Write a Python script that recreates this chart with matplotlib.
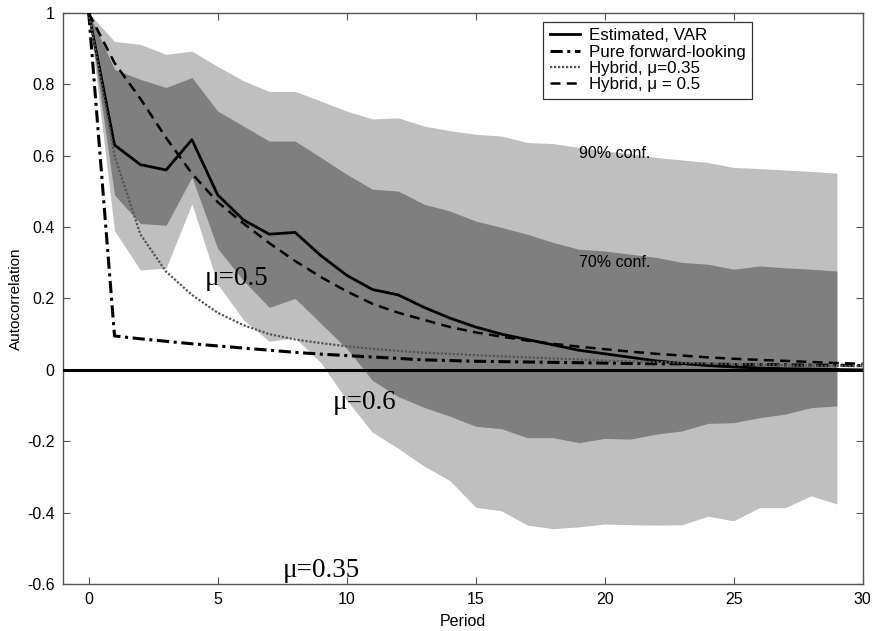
import numpy as np
import matplotlib
matplotlib.use("Agg")
import matplotlib.pyplot as plt

plt.rcParams['font.family'] = ['Liberation Sans', 'DejaVu Sans']

periods = list(range(0, 31))
band_periods = list(range(0, 30))

estimated_var = [1.0, 0.63, 0.575, 0.56, 0.645, 0.49, 0.42, 0.38, 0.385, 0.32,
                 0.265, 0.225, 0.21, 0.175, 0.145, 0.12, 0.10, 0.085, 0.07, 0.055,
                 0.045, 0.035, 0.025, 0.018, 0.012, 0.008, 0.005, 0.003, 0.002, 0.001, 0.0]
pure_forward = [1.0, 0.095, 0.087, 0.08, 0.073, 0.067, 0.061, 0.055, 0.049, 0.044,
                0.04, 0.036, 0.032, 0.028, 0.026, 0.024, 0.023, 0.022, 0.021, 0.020,
                0.019, 0.018, 0.017, 0.017, 0.016, 0.015, 0.015, 0.014, 0.013, 0.013, 0.012]
hybrid_035 = [1.0, 0.60, 0.38, 0.275, 0.21, 0.16, 0.125, 0.10, 0.085, 0.075,
              0.066, 0.059, 0.053, 0.048, 0.045, 0.041, 0.038, 0.035, 0.032, 0.029,
              0.026, 0.024, 0.022, 0.020, 0.018, 0.016, 0.015, 0.013, 0.012, 0.011, 0.010]
hybrid_05 = [1.0, 0.86, 0.76, 0.65, 0.55, 0.47, 0.41, 0.355, 0.305, 0.26,
             0.22, 0.185, 0.16, 0.14, 0.12, 0.105, 0.093, 0.082, 0.073, 0.065,
             0.058, 0.051, 0.045, 0.040, 0.035, 0.031, 0.028, 0.025, 0.022, 0.019, 0.017]

upper90 = [1.0, 0.92, 0.912, 0.884, 0.893, 0.85, 0.81, 0.78, 0.78, 0.753,
           0.725, 0.703, 0.706, 0.683, 0.67, 0.66, 0.655, 0.637, 0.634, 0.623,
           0.613, 0.606, 0.595, 0.588, 0.581, 0.567, 0.564, 0.56, 0.556, 0.551]
upper70 = [1.0, 0.842, 0.814, 0.791, 0.819, 0.725, 0.683, 0.641, 0.641, 0.595,
           0.548, 0.506, 0.501, 0.464, 0.445, 0.417, 0.399, 0.38, 0.357, 0.338,
           0.333, 0.324, 0.315, 0.301, 0.296, 0.282, 0.291, 0.286, 0.282, 0.277]
lower70 = [1.0, 0.49, 0.41, 0.405, 0.54, 0.34, 0.25, 0.175, 0.20, 0.13,
           0.06, -0.03, -0.075, -0.105, -0.13, -0.158, -0.165, -0.19, -0.19, -0.204,
           -0.192, -0.194, -0.18, -0.171, -0.15, -0.148, -0.134, -0.124, -0.106, -0.101]
lower90 = [1.0, 0.39, 0.28, 0.285, 0.465, 0.24, 0.14, 0.08, 0.09, 0.02,
           -0.085, -0.175, -0.22, -0.27, -0.31, -0.385, -0.395, -0.435, -0.445, -0.44,
           -0.432, -0.434, -0.435, -0.434, -0.41, -0.423, -0.386, -0.386, -0.353, -0.376]

xticks = [0, 5, 10, 15, 20, 25, 30]
yticks = [-0.6, -0.4, -0.2, 0, 0.2, 0.4, 0.6, 0.8, 1]
ytick_labels = ['-0.6', '-0.4', '-0.2', '0', '0.2', '0.4', '0.6', '0.8', '1']

fig = plt.figure(figsize=(8.74, 6.31), dpi=100)
ax = fig.add_axes([0.072, 0.0745, 0.915, 0.905])

light = '#bfbfbf'
dark = '#7f7f7f'
ax.fill_between(band_periods, lower90, upper90, color=light, lw=0, zorder=1)
ax.fill_between(band_periods, lower70, upper70, color=dark, lw=0, zorder=2)

ax.axhline(0, color='black', lw=2.2, zorder=3)

l1, = ax.plot(periods, estimated_var, color='black', lw=2.0, ls='-', zorder=5)
l2, = ax.plot(periods, pure_forward, color='black', lw=2.2, ls=(0, (4, 1.5, 1, 1.5)), zorder=5)
l3, = ax.plot(periods, hybrid_035, color='#555555', lw=1.6, ls=(0, (1, 0.8)), zorder=5)
l4, = ax.plot(periods, hybrid_05, color='black', lw=1.8, ls=(0, (4, 2.5)), zorder=5)

leg = ax.legend([l1, l2, l3, l4],
                ['Estimated, VAR', 'Pure forward-looking', 'Hybrid, \u03bc=0.35', 'Hybrid, \u03bc = 0.5'],
                loc='upper left', bbox_to_anchor=(0.6, 0.985), fontsize=12.2,
                frameon=True, fancybox=False, framealpha=1, edgecolor='#333333',
                handlelength=1.8, handletextpad=0.5, borderpad=0.4, labelspacing=0.08,
                borderaxespad=0)
leg.get_frame().set_linewidth(0.9)
leg.set_zorder(10)

ax.set_xlim(-1, 30)
ax.set_ylim(-0.6, 1)
ax.set_xticks(xticks)
ax.set_xticklabels([str(t) for t in xticks])
ax.set_yticks(yticks)
ax.set_yticklabels(ytick_labels)
ax.tick_params(direction='in', length=5, width=0.8, colors='#555555', labelcolor='black',
               labelsize=11.5, top=True, right=True, labeltop=False, labelright=False, pad=6)
for s in ax.spines.values():
    s.set_color('#555555')
    s.set_linewidth(1.0)

ax.set_xlabel('Period', fontsize=11.5, labelpad=5)
ax.set_ylabel('Autocorrelation', fontsize=11, labelpad=3)

ax.text(20.4, 0.605, '90% conf.', fontsize=11.5, ha='center', va='center', zorder=6)
ax.text(20.4, 0.30, '70% conf.', fontsize=11.5, ha='center', va='center', zorder=6)

serif = ['Liberation Serif', 'DejaVu Serif']
ax.text(4.5, 0.255, '\u03bc=0.5', fontsize=19.5, family=serif, ha='left', va='center', zorder=6)
ax.text(9.47, -0.092, '\u03bc=0.6', fontsize=19.5, family=serif, ha='left', va='center', zorder=6)
ax.text(7.53, -0.563, '\u03bc=0.35', fontsize=19.5, family=serif, ha='left', va='center', zorder=6)

fig.savefig('out.png', dpi=100)
